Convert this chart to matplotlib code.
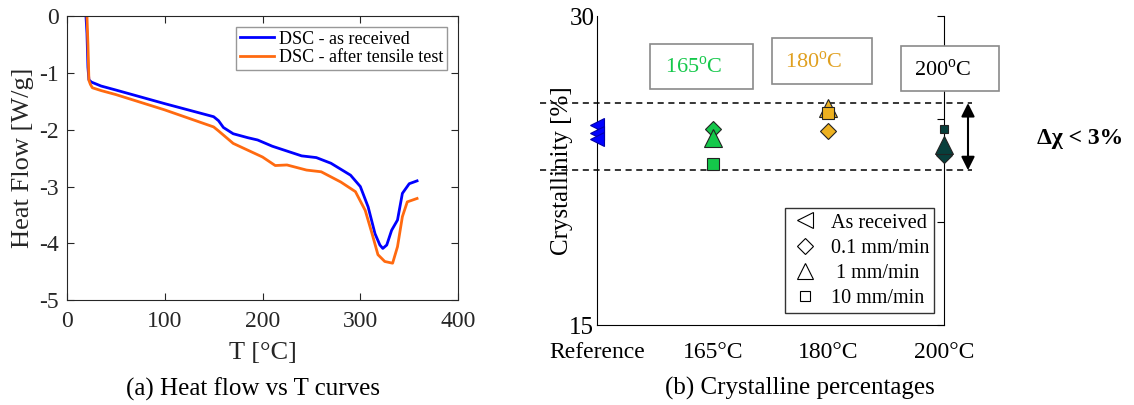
import matplotlib
matplotlib.use("Agg")
import matplotlib.pyplot as plt
from matplotlib.patches import Rectangle
from matplotlib.lines import Line2D

plt.rcParams['font.family'] = ['Liberation Serif', 'DejaVu Serif']
plt.rcParams['mathtext.fontset'] = 'custom'
plt.rcParams['mathtext.rm'] = 'Liberation Serif'

# ---- (a) DSC curves ----
T_blue = [19.5, 20.5, 21.5, 22.5, 25, 35, 50, 100, 150, 155, 160, 170, 185, 195, 210, 240, 255,
          270, 290, 300, 308, 315, 320, 323, 327, 332, 338, 343, 350, 358]
HF_blue = [0.0, -0.3, -0.9, -1.12, -1.16, -1.23, -1.3, -1.54, -1.77, -1.84, -1.96, -2.07, -2.14,
           -2.18, -2.29, -2.46, -2.49, -2.59, -2.8, -3.0, -3.36, -3.83, -4.03, -4.09, -4.03,
           -3.77, -3.59, -3.12, -2.95, -2.9]
T_orange = [20.5, 21.5, 22.5, 24, 26, 35, 50, 100, 150, 155, 170, 185, 200, 213, 225, 245, 260,
            280, 295, 305, 312, 318, 325, 333, 338, 343, 348, 358]
HF_orange = [0.0, -0.5, -1.13, -1.2, -1.26, -1.31, -1.38, -1.65, -1.95, -2.02, -2.24, -2.36,
             -2.48, -2.63, -2.62, -2.71, -2.74, -2.92, -3.09, -3.42, -3.83, -4.2, -4.32, -4.35,
             -4.06, -3.53, -3.27, -3.21]

# ---- (b) crystallinity ----
groups = ['Reference', '165°C', '180°C', '200°C']
ref_asrec = [24.71, 24.32, 24.03]
cr_01 = [24.51, 24.42, 23.25]   # 165, 180, 200
cr_1 = [24.08, 25.53, 23.74]
cr_10 = [22.82, 25.29, 24.51]
band = [25.78, 22.52]
grp_colors = ['#14C84A', '#EDB120', '#083F3C']
box_labels = ['165$^{\\mathregular{o}}$C', '180$^{\\mathregular{o}}$C', '200$^{\\mathregular{o}}$C']

fig = plt.figure(figsize=(11.34, 4.05), dpi=100)

# left
ax1 = fig.add_axes([0.059, 0.259, 0.345, 0.701])
ax1.plot(T_blue, HF_blue, color='#0000FF', lw=2, label='DSC - as received')
ax1.plot(T_orange, HF_orange, color='#FF6A10', lw=2, label='DSC - after tensile test')
ax1.set_xlim(0, 400)
ax1.set_ylim(-5, 0)
ax1.set_xticks([0, 100, 200, 300, 400])
ax1.set_yticks([-5, -4, -3, -2, -1, 0])
ax1.set_yticklabels(['-5', '-4', '-3', '-2', '-1', '0'])
ax1.tick_params(direction='in', top=True, right=True, labelsize=17, length=5,
                colors='#262626', labelcolor='#262626')
ax1.tick_params(axis='x', pad=8)
ax1.tick_params(axis='y', pad=6)
ax1.set_xlabel('T [°C]', fontsize=19, color='#262626')
ax1.xaxis.set_label_coords(0.5, -0.148)
ax1.set_ylabel('Heat Flow [W/g]', fontsize=19, color='#262626')
ax1.yaxis.set_label_coords(-0.085, 0.5)
leg = ax1.legend(loc='upper right', fontsize=13, frameon=True, fancybox=False,
                 edgecolor='#7f7f7f', borderpad=0.2, handlelength=1.9, labelspacing=0.1,
                 handletextpad=0.3, borderaxespad=0.6)
leg.get_frame().set_linewidth(1.0)
for s in ax1.spines.values():
    s.set_color('#262626')
fig.text(0.223, 0.040, '(a) Heat flow vs T curves', ha='center', va='center', fontsize=18)

# right
ax2 = fig.add_axes([0.5265, 0.1975, 0.306, 0.7625])
ax2.set_xlim(0, 3)
ax2.set_ylim(15, 30)
ax2.set_xticks(range(len(groups)))
ax2.set_xticklabels(groups)
ax2.set_yticks([15, 20, 25, 30])
ax2.set_yticklabels(['15', '', '', '30'])
ax2.tick_params(axis='y', direction='in', left=False, right=True, length=5, labelsize=18, pad=2)
ax2.tick_params(axis='x', direction='in', bottom=False, length=0, labelsize=17, pad=12)
ax2.spines['top'].set_visible(False)
ax2.set_ylabel('Crystallinity [%]', fontsize=18)
ax2.yaxis.set_label_coords(-0.07, 0.5)

for y in band:
    ax2.plot([-0.49, 3.24], [y, y], ls=(0, (4, 3)), color='black', lw=1.1, clip_on=False)

ax2.plot([0] * len(ref_asrec), ref_asrec, ls='none', marker='<', ms=10, mfc='#0000FF',
         mec='#0000AA', mew=0.8, clip_on=False, zorder=5)
for i, c in enumerate(grp_colors):
    x = i + 1
    ax2.plot(x, cr_01[i], ls='none', marker='D', ms=8, mfc=c, mec='#222222', mew=0.8,
             clip_on=False, zorder=5)
    ax2.plot(x, cr_1[i], ls='none', marker='^', ms=12.5, mfc=c, mec='#222222', mew=0.8,
             clip_on=False, zorder=5)
    ax2.plot(x, cr_10[i], ls='none', marker='s', ms=8.5 if i < 2 else 6, mfc=c,
             mec='#222222', mew=0.8, clip_on=False, zorder=6)

# text boxes
boxes = [(0.458, 26.46, 0.891, 2.18, 0.13, 27.5),
         (1.513, 26.70, 0.865, 2.23, 0.11, 27.77),
         (2.628, 26.36, 0.848, 2.18, 0.11, 27.38)]
txt_colors = ['#14C84A', '#E0A020', '#000000']
for (bx, by, bw, bh, tx, ty), lab, tc in zip(boxes, box_labels, txt_colors):
    ax2.add_patch(Rectangle((bx, by), bw, bh, fill=True, facecolor='white',
                            edgecolor='#8a8a8a', lw=1.2, clip_on=False, zorder=3))
    ax2.text(bx + tx, ty, lab, color=tc, fontsize=16, ha='left', va='center',
             clip_on=False, zorder=4)

ax2.annotate('', xy=(3.207, band[0]), xytext=(3.207, band[1]),
             arrowprops=dict(arrowstyle='<|-|>', color='black', lw=1.5,
                             mutation_scale=20, shrinkA=0, shrinkB=0),
             annotation_clip=False)
ax2.text(3.80, 24.08, 'Δχ < 3%', fontsize=17, fontweight='bold', ha='left', va='center',
         clip_on=False)

# legend (marker shapes only)
handles = [Line2D([], [], ls='none', marker='<', ms=11, mfc='white', mec='black', mew=0.8),
           Line2D([], [], ls='none', marker='D', ms=8, mfc='white', mec='black', mew=0.8),
           Line2D([], [], ls='none', marker='^', ms=11, mfc='white', mec='black', mew=0.8),
           Line2D([], [], ls='none', marker='s', ms=7, mfc='white', mec='black', mew=0.8)]
leg2 = ax2.legend(handles, ['As received', '0.1 mm/min', ' 1 mm/min', '10 mm/min'],
                  loc='lower right', bbox_to_anchor=(0.971, 0.039), fontsize=14.5,
                  frameon=True, fancybox=False, edgecolor='black', borderpad=0.25,
                  labelspacing=0.3, handletextpad=0.5, handlelength=1.5, borderaxespad=0)
leg2.get_frame().set_linewidth(1.0)

fig.text(0.705, 0.040, '(b) Crystalline percentages', ha='center', va='center', fontsize=18)

fig.savefig('out.png', dpi=100)
